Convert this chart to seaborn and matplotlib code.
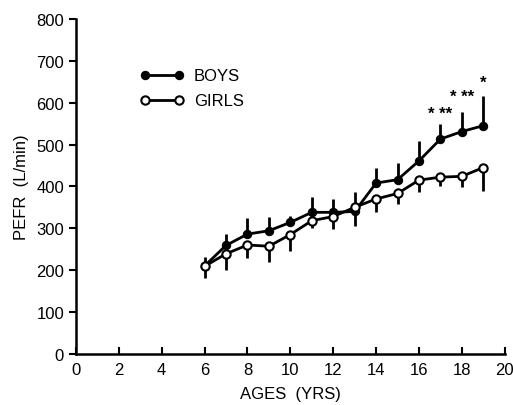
import matplotlib
matplotlib.use('Agg')

import matplotlib.pyplot as plt
import seaborn as sns
import pandas as pd
import numpy as np

# values
ages = [6, 7, 8, 9, 10, 11, 12, 13, 14, 15, 16, 17, 18, 19]
boys = [210, 259, 286, 294, 314, 338, 338, 340, 408, 416, 461, 513, 531, 545]
boys_sd = [22, 28, 38, 32, 15, 36, 32, 47, 35, 41, 48, 36, 46, 71]
girls = [209, 239, 260, 257, 285, 318, 328, 350, 370, 383, 415, 422, 424, 445]
girls_sd = [28, 38, 32, 38, 39, 18, 30, 44, 32, 25, 28, 22, 26, 55]

# significance marks
star_x = [17, 18, 19]
star_y = [573, 614, 648]
star_txt = ['* **', '* **', '*']

x_ticks = list(range(0, 21, 2))
y_ticks = list(range(0, 801, 100))


def main():
    sns.set_style('ticks')
    plt.rcParams['font.family'] = ['Liberation Sans', 'DejaVu Sans']
    plt.rcParams['text.color'] = 'black'
    plt.rcParams['axes.labelcolor'] = 'black'
    plt.rcParams['xtick.color'] = 'black'
    plt.rcParams['ytick.color'] = 'black'
    plt.rcParams['axes.edgecolor'] = 'black'

    df = pd.DataFrame({'age': ages * 2,
                       'pefr': boys + girls,
                       'sex': ['BOYS'] * len(ages) + ['GIRLS'] * len(ages)})

    fig = plt.figure(figsize=(5.13, 4.06), dpi=100)
    ax = fig.add_axes([0.148, 0.126, 0.836, 0.825])

    # error bars: boys upwards, girls downwards
    ax.errorbar(ages, boys, yerr=[np.zeros(len(ages)), boys_sd], fmt='none',
                ecolor='black', elinewidth=2, capsize=0, zorder=2)
    ax.errorbar(ages, girls, yerr=[girls_sd, np.zeros(len(ages))], fmt='none',
                ecolor='black', elinewidth=2, capsize=0, zorder=2)

    sns.lineplot(data=df[df.sex == 'BOYS'], x='age', y='pefr', ax=ax,
                 color='black', lw=2, marker='o', markersize=6,
                 markerfacecolor='black', markeredgecolor='black',
                 label='BOYS', zorder=3)
    sns.lineplot(data=df[df.sex == 'GIRLS'], x='age', y='pefr', ax=ax,
                 color='black', lw=2, marker='o', markersize=6,
                 markerfacecolor='white', markeredgecolor='black',
                 markeredgewidth=1.5, label='GIRLS', zorder=3)

    for x, y, t in zip(star_x, star_y, star_txt):
        ax.text(x, y, t, ha='center', va='center', fontsize=12, fontweight='bold')

    ax.set_xlim(0, 20)
    ax.set_ylim(0, 800)
    ax.set_xticks(x_ticks)
    ax.set_yticks(y_ticks)
    ax.tick_params(axis='x', direction='in', length=5, width=1.5, labelsize=12, pad=6)
    ax.tick_params(axis='y', direction='out', length=5, width=1.5, labelsize=12)
    for s in ['left', 'bottom']:
        ax.spines[s].set_linewidth(1.8)
    sns.despine(ax=ax)

    ax.set_xlabel('AGES  (YRS)', fontsize=12, labelpad=6)
    ax.set_ylabel('PEFR  (L/min)', fontsize=12, labelpad=5)

    ax.legend(loc='upper left', bbox_to_anchor=(0.135, 0.872), frameon=False,
              fontsize=12, numpoints=2, handlelength=2.6, handletextpad=0.6,
              labelspacing=0.6, borderaxespad=0)

    fig.savefig('out.png', dpi=100)


if __name__ == "__main__":
    main()
